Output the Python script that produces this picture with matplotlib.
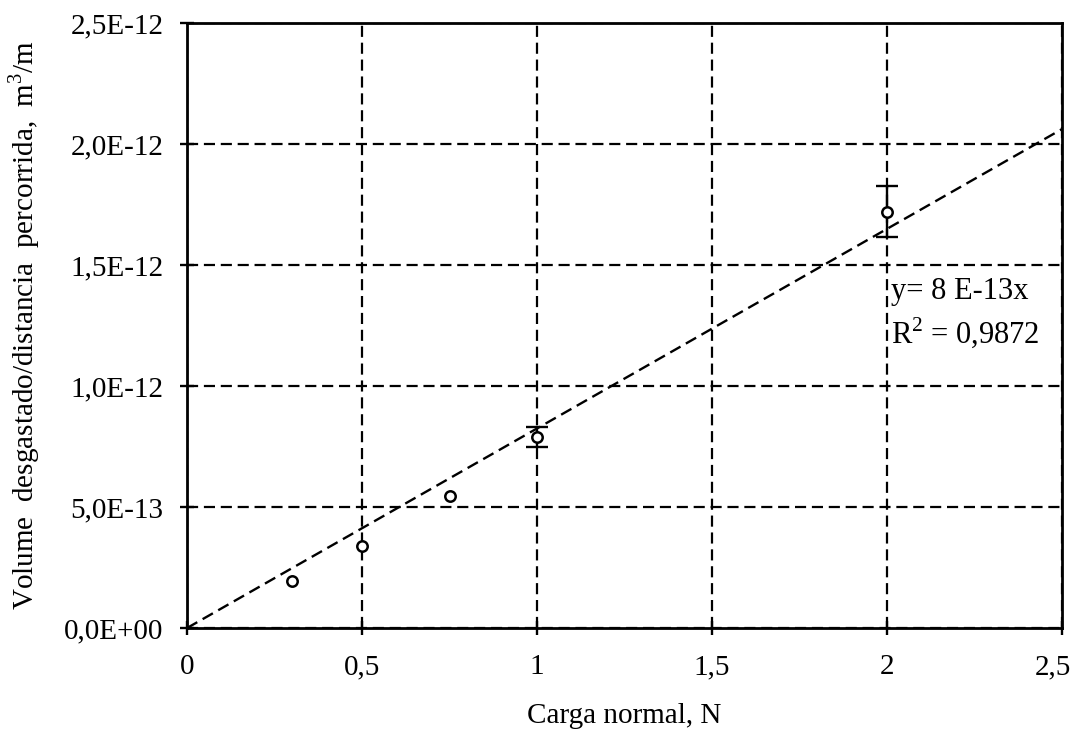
import numpy as np
import matplotlib
matplotlib.use("Agg")
import matplotlib.pyplot as plt
from matplotlib.transforms import ScaledTranslation

# Normal load (N) and specific wear volume (m^3/m)
load = [0.3, 0.5, 0.75, 1.0, 2.0]
wear = [1.95e-13, 3.4e-13, 5.45e-13, 7.9e-13, 1.72e-12]
wear_err = [0.0, 0.0, 0.0, 4.2e-14, 1.06e-13]

x_ticks = [0, 0.5, 1, 1.5, 2, 2.5]
x_tick_labels = ["0", "0,5", "1", "1,5", "2", "2,5"]
y_ticks = [0, 5e-13, 1e-12, 1.5e-12, 2e-12, 2.5e-12]
y_tick_labels = ["0,0E+00", "5,0E-13", "1,0E-12", "1,5E-12", "2,0E-12", "2,5E-12"]

fit_label = "y= 8 E-13x"
r2_label = "R$^2$ = 0,9872"

plt.rcParams["font.family"] = ["Liberation Serif", "DejaVu Serif"]
plt.rcParams["mathtext.fontset"] = "custom"
plt.rcParams["mathtext.rm"] = "Liberation Serif"

fig = plt.figure(figsize=(10.78, 7.42), dpi=100)
ax = fig.add_axes([0.1735, 0.1536, 0.8117, 0.8155])

dash = (0, (5, 2.6))

# linear fit through the origin
x = np.array(load)
y = np.array(wear)
e = np.array(wear_err)
slope = np.sum(x * y) / np.sum(x * x)
xl = np.array([0, 2.5])
ax.plot(xl, slope * xl, color="black", lw=1.7, ls=dash, zorder=2)

# error bars only where a deviation was measured
has_err = e > 0
ax.errorbar(x[has_err], y[has_err], yerr=e[has_err], fmt="none", ecolor="black",
            elinewidth=1.7, capsize=8, capthick=1.7, zorder=3)
ax.plot(x, y, "o", ms=7.5, mfc="white", mec="black", mew=1.8, zorder=4)

ax.set_xlim(0, 2.5)
ax.set_ylim(0, 2.5e-12)
ax.set_xticks(x_ticks)
ax.set_xticklabels(x_tick_labels)
ax.set_yticks(y_ticks)
ax.set_yticklabels(y_tick_labels)

ax.grid(True, color="black", lw=1.6, ls=dash)
ax.set_axisbelow(True)
for s in ax.spines.values():
    s.set_linewidth(2)
ax.tick_params(direction="inout", length=10, width=1.7, labelsize=21)
ax.tick_params(axis="x", pad=14)
ax.tick_params(axis="y", pad=12)

# keep the last x label inside the figure
last = ax.get_xticklabels()[-1]
last.set_transform(last.get_transform() + ScaledTranslation(-9 / 100, 0, fig.dpi_scale_trans))

ax.set_xlabel("Carga normal, N", fontsize=21, labelpad=16)
ax.set_ylabel("Volume  desgastado/distancia  percorrida,  m$^3$/m", fontsize=21, labelpad=16)

ax.text(2.01, 1.39e-12, fit_label, fontsize=22, va="center", ha="left")
ax.text(2.01, 1.22e-12, r2_label, fontsize=22, va="center", ha="left")

fig.savefig("out.png", dpi=100)
